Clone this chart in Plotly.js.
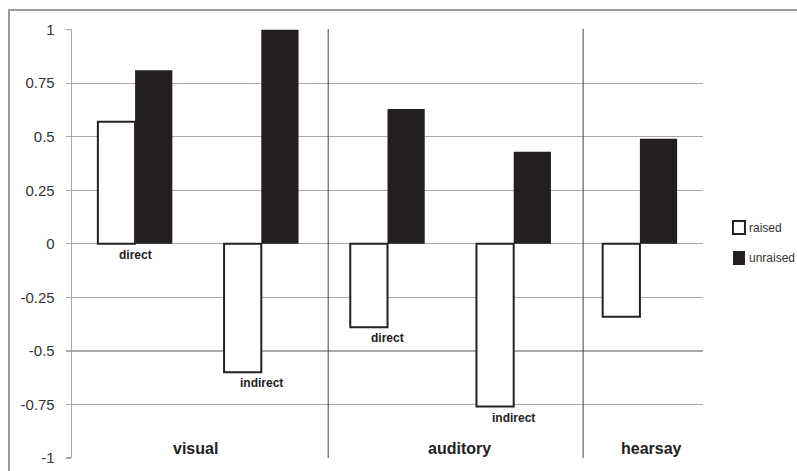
<!DOCTYPE html>
<html>
<head>
<meta charset="utf-8">
<script src="https://cdn.plot.ly/plotly-3.0.1.min.js"></script>
<style>
  html, body { margin: 0; padding: 0; background: #fff; }
  #wrap { position: relative; width: 797px; height: 471px; }
  #chart { width: 797px; height: 471px; }
  #frame { position: absolute; left: 8px; top: 9px; right: -2px; bottom: -2px;
           border-left: 2px solid #9a9a9a; border-top: 2px solid #9a9a9a; pointer-events: none; }
</style>
</head>
<body>
<div id="wrap"><div id="chart"></div><div id="frame"></div></div>
<script>
const categories = ["visual direct", "visual indirect", "auditory direct", "auditory indirect", "hearsay"];
const barLabels = ["direct", "indirect", "direct", "indirect", ""];
const raised = [0.57, -0.60, -0.39, -0.76, -0.34];
const unraised = [0.81, 1.00, 0.63, 0.43, 0.49];
const seriesNames = ["raised", "unraised"];
const groupNames = ["visual", "auditory", "hearsay"];
const groupPos = [0.48, 2.57, 4.09];
const separators = [1.53, 3.55];
const yTicks = [1, 0.75, 0.5, 0.25, 0, -0.25, -0.5, -0.75, -1];

const idx = categories.map((c, i) => i);
const FONT = "Liberation Sans, Arial, sans-serif";

const traces = [
  { type: "bar", name: seriesNames[0], x: idx, y: raised, text: categories, hoverinfo: "text+y",
    textposition: "none",
    marker: { color: "#ffffff", line: { color: "#222222", width: 2 } } },
  { type: "bar", name: seriesNames[1], x: idx, y: unraised, text: categories, hoverinfo: "text+y",
    textposition: "none",
    marker: { color: "#231f20", line: { color: "#231f20", width: 0 } } }
];

const annotations = [];
barLabels.forEach((t, i) => {
  if (!t) return;
  annotations.push({ x: i, y: Math.min(raised[i], 0), xref: "x", yref: "y", text: "<b>" + t + "</b>",
    showarrow: false, yanchor: "top", yshift: -2,
    font: { family: FONT, size: 12, color: "#222" } });
});
groupNames.forEach((g, i) => {
  annotations.push({ x: groupPos[i], y: -0.955, xref: "x", yref: "y", text: "<b>" + g + "</b>",
    showarrow: false, yanchor: "middle",
    font: { family: FONT, size: 16, color: "#222" } });
});

const shapes = separators.map(s => ({ type: "line", xref: "x", yref: "paper", x0: s, x1: s, y0: 0, y1: 1,
  line: { color: "#444", width: 1 } }));

// custom legend (paper coordinates)
const legendRows = [
  { y0: 0.5221, y1: 0.5524, yc: 0.5370, fill: "#ffffff", line: "#222222", lw: 2 },
  { y0: 0.4499, y1: 0.4825, yc: 0.4662, fill: "#231f20", line: "#231f20", lw: 0 }
];
legendRows.forEach((r, i) => {
  shapes.push({ type: "rect", xref: "paper", yref: "paper", x0: 1.0475, x1: 1.0665, y0: r.y0, y1: r.y1,
    fillcolor: r.fill, line: { color: r.line, width: r.lw } });
  annotations.push({ xref: "paper", yref: "paper", x: 1.0695, y: r.yc, xanchor: "left", yanchor: "middle",
    text: seriesNames[i], showarrow: false, font: { family: FONT, size: 12, color: "#333" } });
});

const layout = {
  width: 797, height: 471,
  margin: { l: 72, r: 94, t: 29, b: 13, autoexpand: false },
  paper_bgcolor: "#fff", plot_bgcolor: "#fff",
  barmode: "group", bargap: 0.41, bargroupgap: 0,
  showlegend: false,
  xaxis: { range: [-0.5, 4.5], showticklabels: false, showgrid: false, zeroline: false, showline: false, ticks: "" },
  yaxis: { range: [-1.0, 1.003], tickvals: yTicks, ticktext: yTicks.map(String),
    showgrid: true, gridcolor: "#a8a8a8", gridwidth: 1.3,
    zeroline: true, zerolinecolor: "#a8a8a8", zerolinewidth: 1.3,
    showline: true, linecolor: "#a8a8a8", linewidth: 1.3,
    ticks: "outside", ticklen: 5, tickcolor: "#a8a8a8", tickwidth: 1.3, ticklabelstandoff: 8,
    tickfont: { family: FONT, size: 15, color: "#333" } },
  annotations: annotations,
  shapes: shapes
};

Plotly.newPlot("chart", traces, layout, { displayModeBar: false, staticPlot: true });
</script>
</body>
</html>
